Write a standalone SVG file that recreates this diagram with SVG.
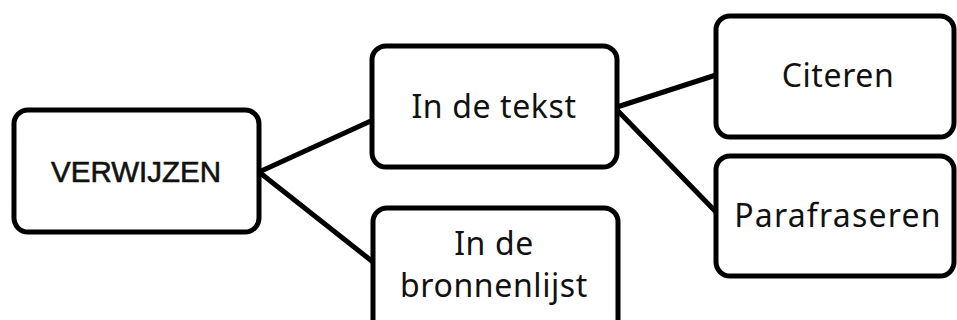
<svg xmlns="http://www.w3.org/2000/svg" width="957" height="320" viewBox="0 0 957 320">
<style>
.box{fill:#fff;stroke:#000;stroke-width:5}
.t{font-family:"Noto Sans","Open Sans",sans-serif;font-size:32px;letter-spacing:0.6px;fill:#111;text-anchor:middle}
.h{font-family:"Liberation Sans",Arial,sans-serif;font-size:29.5px;fill:#111;stroke:#111;stroke-width:0.6px;text-anchor:middle}
.c{stroke:#000;stroke-width:5;fill:none;stroke-linecap:round}
</style>
<rect width="957" height="320" fill="#fff"/>
<g id="connectors">
<line class="c" x1="259" y1="172" x2="373" y2="120"/>
<line class="c" x1="259" y1="172" x2="373" y2="262"/>
<line class="c" x1="617" y1="107" x2="716" y2="75"/>
<line class="c" x1="617" y1="110" x2="716" y2="212"/>
</g>
<g id="verwijzen">
<rect class="box" x="14" y="110" width="245" height="122" rx="14"/>
<text class="h" x="136" y="182">VERWIJZEN</text>
</g>
<g id="in-de-tekst">
<rect class="box" x="372" y="46" width="245" height="121" rx="14"/>
<text class="t" x="494" y="118">In de tekst</text>
</g>
<g id="in-de-bronnenlijst">
<rect class="box" x="373" y="208" width="245" height="125" rx="14"/>
<text class="t" x="494" y="255">In de</text>
<text class="t" x="494" y="297">bronnenlijst</text>
</g>
<g id="citeren">
<rect class="box" x="716" y="16" width="238" height="121" rx="14"/>
<text class="t" x="838" y="87">Citeren</text>
</g>
<g id="parafraseren">
<rect class="box" x="716" y="156" width="238" height="120" rx="14"/>
<text class="t" x="838" y="227" style="letter-spacing:1.2px">Parafraseren</text>
</g>
</svg>
